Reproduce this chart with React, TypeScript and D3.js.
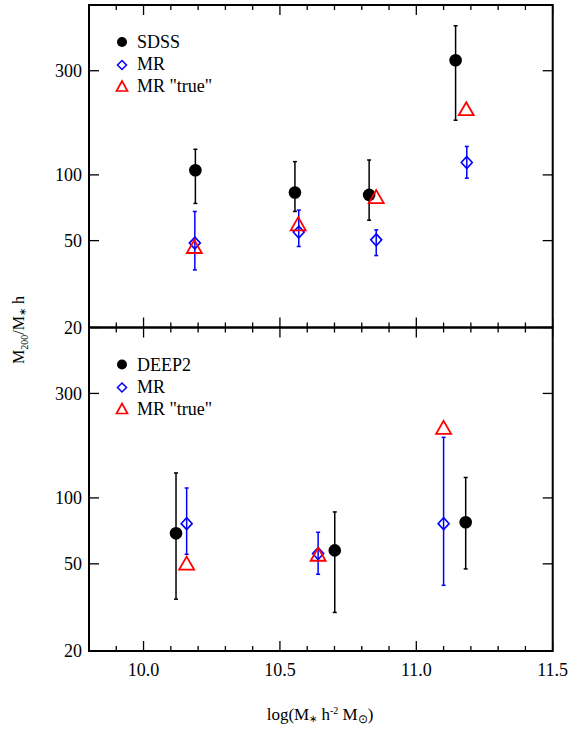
import React from "react";
import * as d3 from "d3";

// log(M*) positions and M200/M* values
const sdssX = [10.19, 10.555, 10.827, 11.144];
const sdssY = [105, 83, 81, 335];
const sdssHi = [131, 115, 117, 482];
const sdssLo = [74, 68, 62, 178];

const mrTopX = [10.188, 10.569, 10.853, 11.185];
const mrTopY = [48.7, 54.7, 50.4, 114];
const mrTopHi = [68, 69, 56, 135];
const mrTopLo = [36.7, 47, 42.7, 96.6];

const trueTopX = [10.186, 10.567, 10.853, 11.183];
const trueTopY = [47, 59.7, 79.5, 201];

const deep2X = [10.119, 10.701, 11.181];
const deep2Y = [69, 57.6, 77.4];
const deep2Hi = [130, 86.3, 124];
const deep2Lo = [34.5, 30, 47.4];

const mrBotX = [10.158, 10.64, 11.1];
const mrBotY = [76.3, 55.7, 76.3];
const mrBotHi = [111, 69.7, 189];
const mrBotLo = [55.3, 44.8, 39.9];

const trueBotX = [10.158, 10.64, 11.1];
const trueBotY = [50.4, 55.3, 210];

const yTicks = [20, 50, 100, 300];
const xMajor = [10.0, 10.5, 11.0, 11.5];

const W = 585;
const H = 732;
const left = 89;
const right = 552.7;
const top = 5;
const mid = 327.5;
const bottom = 651;
const FONT = "'Liberation Serif', 'Times New Roman', serif";

const x = d3.scaleLinear().domain([9.8, 11.5]).range([left, right]);
const xMinor = d3.range(98, 116).map((d) => d / 10);

const tri = "M0,-6.5 L7.5,6.5 L-7.5,6.5 Z";
const dia = "M0,-6 L5.5,0 L0,6 L-5.5,0 Z";

function ErrBar({ cx, lo, hi, color }) {
  return (
    <g stroke={color} strokeWidth={1.5}>
      <line x1={cx} x2={cx} y1={lo} y2={hi} />
      <line x1={cx - 2} x2={cx + 2} y1={lo} y2={lo} />
      <line x1={cx - 2} x2={cx + 2} y1={hi} y2={hi} />
    </g>
  );
}

function Panel({ y0, y1, showXLabels, labels, circ, dmd, trg }) {
  const y = d3.scaleLog().domain([20, 600]).range([y1, y0]);
  return (
    <g>
      {/* ticks */}
      <g stroke="#000" strokeWidth={1.3}>
        {xMinor.map((t, i) => {
          const major = xMajor.some((m) => Math.abs(m - t) < 1e-6);
          const len = major ? 10 : 5;
          return (
            <g key={i}>
              <line x1={x(t)} x2={x(t)} y1={y1} y2={y1 - len} />
              <line x1={x(t)} x2={x(t)} y1={y0} y2={y0 + len} />
            </g>
          );
        })}
        {yTicks.map((t) => (
          <g key={t}>
            <line x1={left} x2={left + 10} y1={y(t)} y2={y(t)} />
            <line x1={right} x2={right - 10} y1={y(t)} y2={y(t)} />
          </g>
        ))}
      </g>
      <rect x={left} y={y0} width={right - left} height={y1 - y0} fill="none" stroke="#000" strokeWidth={2} />
      {yTicks.map((t) => (
        <text key={t} x={left - 7} y={y(t)} dy="0.35em" textAnchor="end" fontSize={18} fontFamily={FONT}>
          {t}
        </text>
      ))}
      {showXLabels &&
        xMajor.map((t) => (
          <text key={t} x={x(t)} y={y1 + 25} textAnchor="middle" fontSize={18} fontFamily={FONT}>
            {t.toFixed(1)}
          </text>
        ))}

      {/* error bars */}
      {circ.xs.map((v, i) => (
        <ErrBar key={"c" + i} cx={x(v)} lo={y(circ.lo[i])} hi={y(circ.hi[i])} color="#000" />
      ))}
      {dmd.xs.map((v, i) => (
        <ErrBar key={"d" + i} cx={x(v)} lo={y(dmd.lo[i])} hi={y(dmd.hi[i])} color="#0000ff" />
      ))}

      {/* markers */}
      {circ.xs.map((v, i) => (
        <circle key={"cc" + i} cx={x(v)} cy={y(circ.ys[i])} r={6.3} fill="#000" />
      ))}
      {dmd.xs.map((v, i) => (
        <path key={"dd" + i} d={dia} transform={`translate(${x(v)},${y(dmd.ys[i])})`} fill="none" stroke="#0000ff" strokeWidth={1.6} />
      ))}
      {trg.xs.map((v, i) => (
        <path key={"tt" + i} d={tri} transform={`translate(${x(v)},${y(trg.ys[i])})`} fill="none" stroke="#ff0000" strokeWidth={1.8} />
      ))}

      {/* legend */}
      <g fontFamily={FONT} fontSize={18}>
        <circle cx={122} cy={y0 + 37} r={5} fill="#000" />
        <text x={137} y={y0 + 43}>{labels[0]}</text>
        <path d="M0,-4.5 L4.5,0 L0,4.5 L-4.5,0 Z" transform={`translate(122,${y0 + 60})`} fill="none" stroke="#0000ff" strokeWidth={1.5} />
        <text x={137} y={y0 + 65}>MR</text>
        <path d="M0,-5 L5.5,5 L-5.5,5 Z" transform={`translate(122,${y0 + 81})`} fill="none" stroke="#ff0000" strokeWidth={1.7} />
        <text x={137} y={y0 + 87}>MR "true"</text>
      </g>
    </g>
  );
}

export default function App() {
  return (
    <svg width={W} height={H} style={{ position: "absolute", left: 0, top: 0, background: "#fff" }}>
      <Panel
        y0={top}
        y1={mid}
        showXLabels={false}
        labels={["SDSS"]}
        circ={{ xs: sdssX, ys: sdssY, lo: sdssLo, hi: sdssHi }}
        dmd={{ xs: mrTopX, ys: mrTopY, lo: mrTopLo, hi: mrTopHi }}
        trg={{ xs: trueTopX, ys: trueTopY }}
      />
      <Panel
        y0={mid}
        y1={bottom}
        showXLabels={true}
        labels={["DEEP2"]}
        circ={{ xs: deep2X, ys: deep2Y, lo: deep2Lo, hi: deep2Hi }}
        dmd={{ xs: mrBotX, ys: mrBotY, lo: mrBotLo, hi: mrBotHi }}
        trg={{ xs: trueBotX, ys: trueBotY }}
      />
      <text transform="translate(24,330) rotate(-90)" textAnchor="middle" fontSize={16} fontFamily={FONT}>
        M<tspan fontSize={10} dy={4}>200</tspan>
        <tspan dy={-4}>/M</tspan>
        <tspan fontSize={10} dy={2}>∗</tspan>
        <tspan dy={-2}> h</tspan>
      </text>
      <text x={320} y={720} textAnchor="middle" fontSize={17} fontFamily={FONT}>
        log(M<tspan fontSize={10} dy={2}>∗</tspan>
        <tspan dy={-2}> h</tspan>
        <tspan fontSize={10} dy={-6}>-2</tspan>
        <tspan dy={6}> M</tspan>
        <tspan fontSize={12} dy={3}>⊙</tspan>
        <tspan dy={-3}>)</tspan>
      </text>
    </svg>
  );
}
